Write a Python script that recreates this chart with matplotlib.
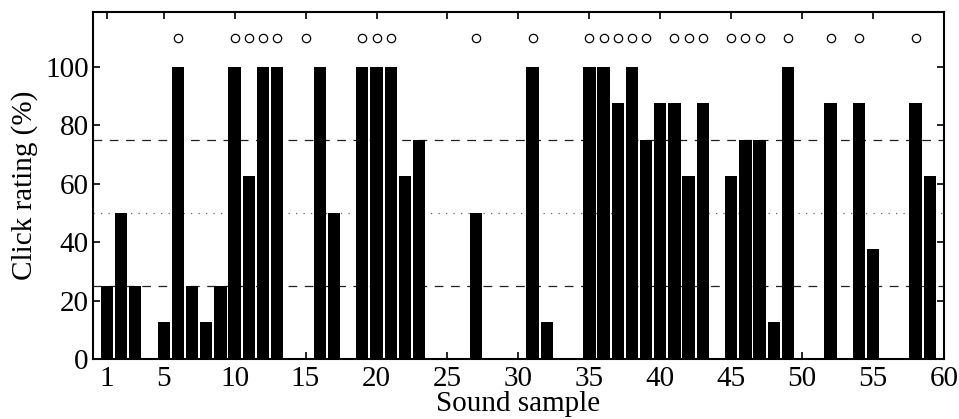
import matplotlib
matplotlib.use("Agg")
import matplotlib.pyplot as plt
import numpy as np

samples = list(range(1, 61))
ratings = [25, 50, 25, 0, 12.5, 100, 25, 12.5, 25, 100,
           62.5, 100, 100, 0, 0, 100, 50, 0, 100, 100,
           100, 62.5, 75, 0, 0, 0, 50, 0, 0, 0,
           100, 12.5, 0, 0, 100, 100, 87.5, 100, 75, 87.5,
           87.5, 62.5, 87.5, 0, 62.5, 75, 75, 12.5, 100, 0,
           0, 87.5, 0, 87.5, 37.5, 0, 0, 87.5, 62.5, 0]
marked = [6, 10, 11, 12, 13, 15, 19, 20, 21, 27, 31, 35, 36, 37, 38, 39,
          41, 42, 43, 45, 46, 47, 49, 52, 54, 58]
marker_level = 110
ref_dashed = [25, 75]
ref_dotted = [50]
xticks = [1, 5, 10, 15, 20, 25, 30, 35, 40, 45, 50, 55, 60]
yticks = [0, 20, 40, 60, 80, 100]

plt.rcParams['font.family'] = ['Liberation Serif', 'DejaVu Serif']

fig = plt.figure(figsize=(9.59, 4.19), dpi=100)
ax = fig.add_axes([0.0967, 0.1432, 0.9844 - 0.0967, 0.9714 - 0.1432])

for y in ref_dashed:
    ax.axhline(y, color='#222222', linestyle=(0, (7, 6)), linewidth=0.9, zorder=1)
for y in ref_dotted:
    ax.axhline(y, color='#666666', linestyle=(0, (1, 5)), linewidth=0.9, zorder=1)

ax.bar(samples, ratings, width=0.87, color='black', edgecolor='none', zorder=2)
ax.plot(marked, [marker_level] * len(marked), linestyle='none', marker='o',
        markersize=6, markerfacecolor='white', markeredgecolor='black',
        markeredgewidth=0.9, zorder=3)

ax.set_xlim(0, 60)
ax.set_ylim(0, 118.8)
ax.set_xticks(xticks)
ax.set_yticks(yticks)
ax.tick_params(direction='in', length=5, width=1.2, top=True, right=True,
               labelsize=21)
ax.tick_params(axis='x', pad=5)
ax.tick_params(axis='y', pad=3)
for s in ax.spines.values():
    s.set_linewidth(1.5)
ax.set_xlabel('Sound sample', fontsize=21, labelpad=-1)
ax.set_ylabel('Click rating (%)', fontsize=21, labelpad=5)

fig.savefig('out.png', dpi=100)
